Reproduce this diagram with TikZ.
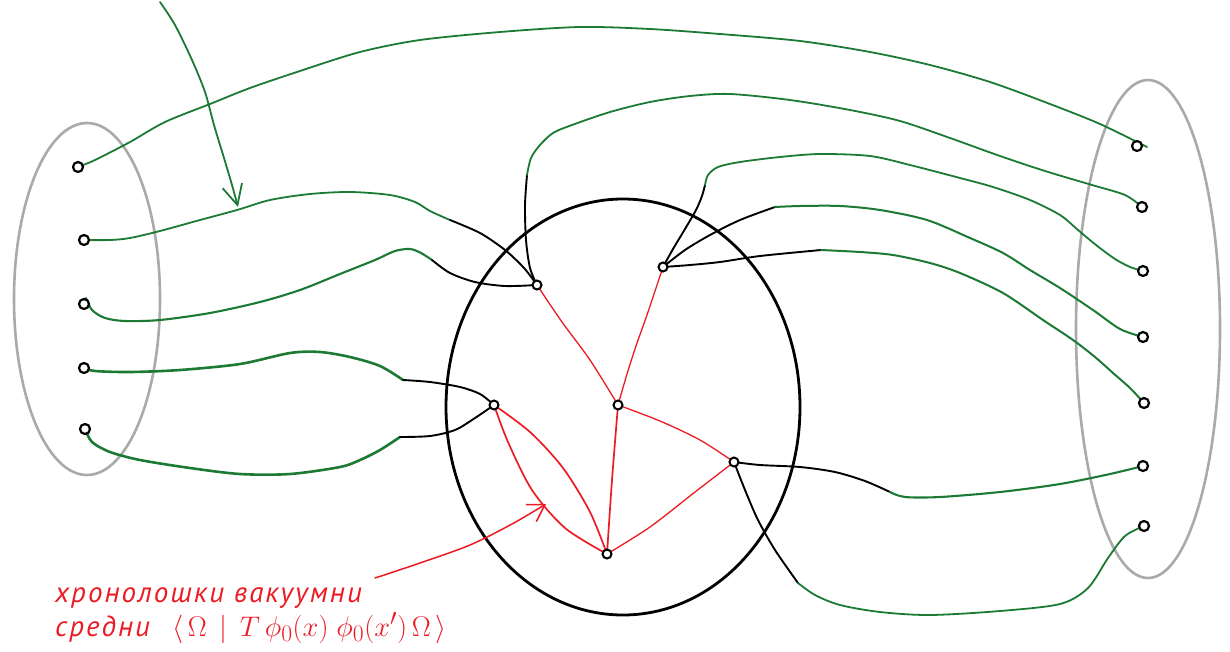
\documentclass[tikz,border=0pt]{standalone}
\usepackage{graphicx}
\usepackage{fontspec}
\setmainfont{PT Sans}
\usetikzlibrary{arrows.meta}
\pgfdeclarelayer{bg}
\pgfsetlayers{bg,main}
\definecolor{grn}{RGB}{28,122,52}
\definecolor{hred}{RGB}{236,28,36}
\definecolor{ell}{RGB}{170,170,170}
\tikzset{
  pt/.style={circle,draw=black,line width=2.2pt,fill=white,inner sep=0pt,minimum size=10pt},
  vx/.style={pt,minimum size=9pt,line width=2pt},
  gline/.style={draw=grn,line width=1.8pt,line cap=round},
  gthick/.style={draw=grn,line width=2.6pt,line cap=round},
  bline/.style={draw=black,line width=1.9pt,line cap=round},
  rline/.style={draw=hred,line width=1.3pt,line cap=round},
  grayell/.style={draw=ell,line width=2.6pt},
  lbl/.style={text=hred,font=\fontsize{29}{33}\selectfont\itshape\addfontfeatures{LetterSpace=7},inner sep=0pt},
  mlbl/.style={text=hred,font=\fontsize{24.88}{30}\selectfont,inner sep=0pt},
}
\begin{document}
\begin{tikzpicture}[x=1pt,y=-1pt]
\begin{pgfonlayer}{bg}
\fill[white] (0,0) rectangle (1230,651);
\end{pgfonlayer}
\useasboundingbox (0,0) rectangle (1230,651);
% external points
\node[pt] (L1) at (78,167) {};
\node[pt] (L2) at (84,240) {};
\node[pt] (L3) at (84,304) {};
\node[pt] (L4) at (84,368) {};
\node[pt] (L5) at (85,429) {};
\node[pt] (R1) at (1137,146) {};
\node[pt] (R2) at (1142,207) {};
\node[pt] (R3) at (1143,271) {};
\node[pt] (R4) at (1143,337) {};
\node[pt] (R5) at (1144,403) {};
\node[pt] (R6) at (1143,466) {};
\node[pt] (R7) at (1144,526) {};
% internal vertices
\node[vx] (A) at (537,285) {};
\node[vx] (B) at (663,267) {};
\node[vx] (C) at (494,405) {};
\node[vx] (D) at (618,405) {};
\node[vx] (E) at (734,462) {};
\node[vx] (F) at (607,554) {};
% junctions
\coordinate (JA) at (527,175);
\coordinate (J2) at (450,220);
\coordinate (J3) at (432,260);
\coordinate (J4) at (403,380);
\coordinate (J5) at (400,437);
\coordinate (J6) at (705,185);
\coordinate (J7) at (775,207);
\coordinate (J8) at (821,250);
\coordinate (J9) at (890,492);
\coordinate (J10) at (798,583);
\coordinate (GA0) at (160,2);
\coordinate (GA1) at (238,207);
\coordinate (RA0) at (375,578);
\coordinate (RA1) at (546,504);
% label
\node[lbl,anchor=base west] (t1) at (55,602) {хронолошки вакуумни};
\node[lbl,anchor=base west] (t2) at (55,636) {средни};
\node[mlbl,anchor=base west] (t3) at (172,636) {\scalebox{1.14}{$\langle\,\Omega\;\,|\;\,T\,\phi_0(x)\;\phi_0(x')\,\Omega\,\rangle$}};

\begin{pgfonlayer}{bg}
\draw[grayell] (87,299) ellipse [x radius=73pt, y radius=176pt];
\draw[grayell] (1148,329) ellipse [x radius=72pt, y radius=249pt];
\draw[black,line width=2.8pt] (623,407) ellipse [x radius=177pt, y radius=208pt];
% green arrows/labels
\draw[gline,-{Straight Barb[length=20pt,width=20pt]}] plot[smooth] coordinates {(GA0) (175,25) (192,60) (205,92) (214,125) (224,158) (232,185) (GA1)};
\draw[rline,line width=1.5pt,-{Straight Barb[length=16pt,width=20pt]}] plot[smooth] coordinates {(RA0) (420,563) (470,545) (512,524) (RA1)};
% top long curve
\draw[gline] plot[smooth] coordinates {(L1) (95,160) (130,142) (165,122) (210,104) (250,88) (300,71) (360,52) (420,40) (500,32) (580,27) (650,29) (720,34) (800,41) (870,52) (930,65) (990,82) (1050,104) (1100,124) (1147,147)};
% A legs
\draw[bline] plot[smooth] coordinates {(A) (530,268) (526,240) (525,205) (JA)};
\draw[gline] plot[smooth] coordinates {(JA) (531,158) (540,145) (553,133) (572,125) (610,112) (650,102) (690,96) (730,94) (790,100) (850,110) (900,121) (950,138) (1000,156) (1045,171) (1092,185) (1125,195) (R2)};
\draw[gline] plot[smooth] coordinates {(L2) (110,240) (130,238) (160,231) (200,220) (237,210) (270,200) (310,194) (350,192) (390,195) (415,202) (430,211) (J2)};
\draw[bline] plot[smooth] coordinates {(J2) (480,233) (505,250) (524,268) (A)};
\draw[gline,line width=2.1pt] plot[smooth] coordinates {(86,298) (92,310) (105,318) (125,321) (160,320) (210,313) (260,302) (300,290) (340,274) (375,260) (395,251) (410,249) (421,253) (J3)};
\draw[bline] plot[smooth] coordinates {(J3) (450,273) (475,282) (505,286) (A)};
% C legs
\draw[gthick] plot[smooth] coordinates {(L4) (95,371) (130,372) (180,370) (240,364) (290,353) (320,352) (350,357) (380,366) (J4)};
\draw[bline] plot[smooth] coordinates {(J4) (430,382) (460,387) (480,394) (C)};
\draw[gthick] plot[smooth] coordinates {(L5) (92,442) (110,452) (140,460) (190,468) (240,474) (290,474) (340,467) (360,460) (380,450) (J5)};
\draw[bline] plot[smooth] coordinates {(J5) (430,436) (455,430) (475,418) (C)};
% B legs
\draw[bline] plot[smooth] coordinates {(B) (673,249) (685,229) (696,210) (702,196) (J6)};
\draw[gline] plot[smooth] coordinates {(J6) (708,175) (718,167) (740,162) (780,157) (820,154) (870,156) (910,165) (960,178) (993,187) (1030,200) (1060,215) (1078,230) (1096,245) (1115,259) (1130,267) (R3)};
\draw[bline] plot[smooth] coordinates {(B) (685,250) (710,235) (740,220) (J7)};
\draw[gline,line width=2pt] plot[smooth] coordinates {(J7) (800,206) (840,206) (880,210) (927,220) (970,238) (1003,253) (1030,270) (1060,288) (1093,310) (1120,329) (R4)};
\draw[bline] plot[smooth] coordinates {(B) (690,265) (720,262) (760,256) (J8)};
\draw[gline,line width=2pt] plot[smooth] coordinates {(J8) (860,252) (893,255) (930,263) (960,273) (1003,293) (1043,320) (1073,340) (1095,357) (1113,373) (1130,388) (R5)};
% E legs
\draw[bline] plot[smooth] coordinates {(E) (760,465) (800,467) (835,472) (865,481) (J9)};
\draw[gline,line width=2.1pt] plot[smooth] coordinates {(J9) (905,497) (940,497) (1000,492) (1060,484) (1110,474) (R6)};
\draw[bline] plot[smooth] coordinates {(E) (745,490) (758,520) (775,550) (J10)};
\draw[gline] plot[smooth] coordinates {(J10) (815,595) (840,605) (880,612) (930,615) (1000,611) (1060,604) (1088,588) (1108,558) (1125,536) (R7)};
% red propagators
\draw[rline] plot[smooth] coordinates {(A) (562,322) (590,360) (D)};
\draw[rline] plot[smooth] coordinates {(B) (648,312) (636,346) (627,374) (D)};
\draw[rline,line width=1.7pt] plot[smooth] coordinates {(D) (612,480) (F)};
\draw[rline] plot[smooth] coordinates {(D) (660,421) (700,440) (E)};
\draw[rline] plot[smooth] coordinates {(E) (695,492) (650,527) (F)};
\draw[rline,line width=1.7pt] plot[smooth] coordinates {(C) (530,432) (563,468) (590,512) (F)};
\draw[rline,line width=1.7pt] plot[smooth] coordinates {(C) (508,442) (532,490) (565,528) (F)};
\end{pgfonlayer}
\end{tikzpicture}
\end{document}
